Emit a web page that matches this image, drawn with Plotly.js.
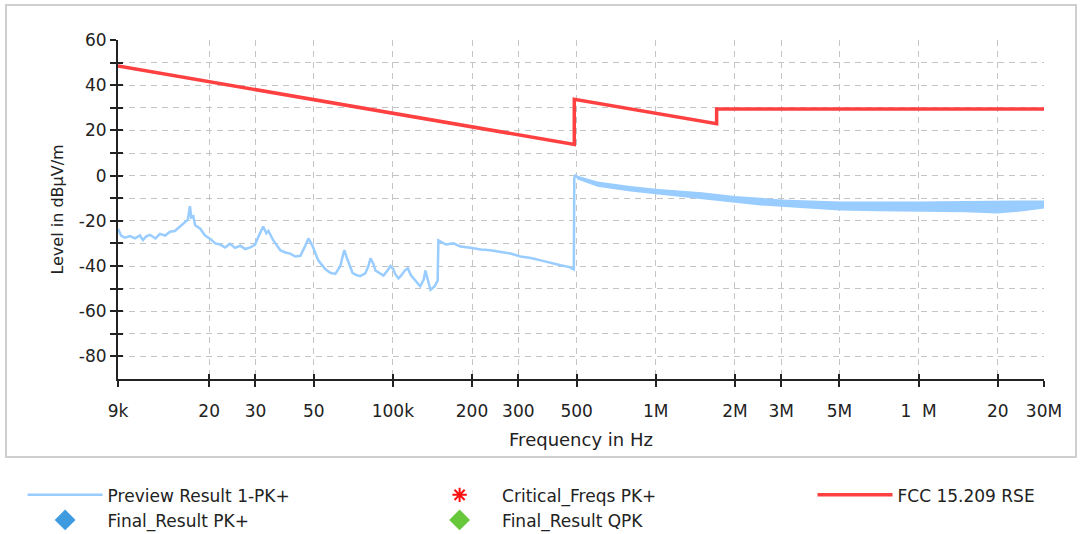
<!DOCTYPE html>
<html><head><meta charset="utf-8">
<script src="https://cdn.plot.ly/plotly-3.0.1.min.js"></script>
<style>
html,body{margin:0;padding:0;background:#fff;}
#frame{position:absolute;left:5px;top:4px;width:1068px;height:450px;border:2px solid #cfcfcf;}
#chart{position:absolute;left:0;top:0;width:1081px;height:534px;}
</style></head><body>
<div id="frame"></div>
<div id="chart"></div>
<script>
// Preview Result 1-PK+ (centre of the measured trace)
const previewFreq = [9000,9240,9570,10000,10450,10900,11200,11500,11900,12500,13000,13600,14200,14800,15500,16200,16600,16900,17100,17400,17700,18500,19300,20200,21100,22000,23000,24000,25100,26300,27400,28700,29900,30800,32100,33000,33600,35100,37300,39000,40700,42500,44500,46400,47700,49400,52000,55400,57800,60400,63100,64300,65400,66600,67700,70200,72600,75200,78600,80700,82200,84300,85800,88900,92100,95400,97900,100500,102000,105000,107000,111000,114000,117000,120000,123000,127000,131000,133000,135000,139000,144000,148000,149000,159000,170000,181000,200000,216000,235000,257000,280000,306000,335000,365000,400000,435000,470000,488000,490000,495000,501000,519000,540000,566000,590000,618000,680000,737000,800000,878000,960000,1047000,1150000,1248000,1360000,1487000,1620000,1771000,1940000,2110000,2300000,2520000,2750000,3000000,3300000,3570000,4250000,5080000,6000000,7210000,8600000,10200000,12200000,14600000,17400000,20700000,25000000,30000000];
const previewLevel = [-23.5,-26.5,-27.5,-26.8,-27.8,-26.5,-28.5,-27,-26.2,-27.8,-25.8,-26.5,-24.8,-24.5,-22.5,-20.5,-19.5,-13.5,-18.5,-18,-22,-23.5,-26.5,-28,-30,-30.5,-31.8,-30.2,-32,-31,-32.5,-31.8,-30.5,-27,-22.5,-25.5,-24.5,-28.7,-33,-34,-34.5,-35.8,-35.5,-31,-27.8,-31,-37.5,-41.5,-43,-43.5,-40,-36,-33,-36,-38.5,-43,-44,-44.5,-43.2,-40,-36.6,-39,-42,-43,-44.2,-42,-40,-41.5,-43.5,-45.5,-44.5,-42,-41,-44,-45.5,-47,-49,-46,-42,-45,-50.5,-49,-46.5,-28.7,-30.5,-30,-31.4,-32,-32.7,-33,-33.6,-34.5,-35.8,-36.5,-37.5,-38.8,-39.7,-40.5,-41.5,-1,0,-0.5,-1.3,-1.8,-2.6,-3.2,-4,-4.5,-4.9,-5.8,-6,-6.8,-7,-7.6,-8,-8.6,-9,-9.8,-10.4,-10.7,-11.3,-11.6,-12,-12.2,-12.4,-12.8,-13,-13.2,-13.4,-13.2,-13.4,-13.6,-13.8,-13.9,-14,-13.9,-14,-13.3,-12.5];
// noise envelope of the preview trace above 490 kHz
const bandFreq  = [501000,600000,800000,1000000,1500000,2000000,2500000,3000000,5000000,7000000,10000000,15000000,20000000,25000000,30000000];
const bandUpper = [0,-2.6,-4.6,-5.8,-7.4,-9,-9.8,-10.6,-11.5,-11.6,-11.5,-11.2,-11,-11,-11];
const bandLower = [-1.6,-4.9,-7,-8.2,-10.6,-12,-13.2,-13.8,-15.4,-15.8,-15.9,-16.2,-16.8,-15.8,-14.6];
// FCC 15.209 RSE limit
const limitFreq  = [9000,490000,490000,1705000,1705000,30000000];
const limitLevel = [48.5,13.8,33.8,23.0,29.5,29.5];
// axis ticks
const xTickVals = [9000,20000,30000,50000,100000,200000,300000,500000,1000000,2000000,3000000,5000000,10000000,20000000,30000000];
const xTickText = ['9k','20','30','50','100k','200','300','500','1M','2M','3M','5M','1\u00a0\u00a0M','20','30M'];
const yTickVals = [-80,-70,-60,-50,-40,-30,-20,-10,0,10,20,30,40,50,60];
const yTickText = ['-80','','-60','','-40','','-20','','0','','20','','40','','60'];

const FONT = 'DejaVu Sans, Liberation Sans, Arial, sans-serif';
const blue = '#99ccff';
const xr = [Math.log10(9000), Math.log10(30000000)];
const yr = [-90, 60];

const traces = [
  {x: bandFreq, y: bandLower, type:'scatter', mode:'lines', line:{width:0, color:blue}, showlegend:false, hoverinfo:'skip'},
  {x: bandFreq, y: bandUpper, type:'scatter', mode:'lines', line:{width:0, color:blue}, fill:'tonexty', fillcolor:blue, showlegend:false, hoverinfo:'skip'},
  {x: previewFreq, y: previewLevel, type:'scatter', mode:'lines', name:'Preview Result 1-PK+', line:{width:2.5, color:blue}, legend:'legend', legendrank:1},
  {x: [null], y: [null], type:'scatter', mode:'markers', name:'Final_Result PK+', marker:{symbol:'diamond', size:17, color:'#3f9be0'}, legend:'legend', legendrank:2, xaxis:'x2', yaxis:'y2'},
  {x: [null], y: [null], type:'scatter', mode:'markers', name:'Critical_Freqs PK+', marker:{symbol:'asterisk-open', size:12, color:'#ff1010', line:{width:2, color:'#ff1010'}}, legend:'legend2', legendrank:1, xaxis:'x2', yaxis:'y2'},
  {x: [null], y: [null], type:'scatter', mode:'markers', name:'Final_Result QPK', marker:{symbol:'diamond', size:17, color:'#66c83a'}, legend:'legend2', legendrank:2, xaxis:'x2', yaxis:'y2'},
  {x: limitFreq, y: limitLevel, type:'scatter', mode:'lines', name:'FCC 15.209 RSE', line:{width:3.5, color:'#ff4040'}, legend:'legend3', xaxis:'x2', yaxis:'y2'}
];

const legBase = {orientation:'v', traceorder:'normal', yanchor:'top', xanchor:'left', y:-0.29, bgcolor:'rgba(0,0,0,0)', font:{family:FONT, size:17, color:'#222'}, itemwidth:75, tracegroupgap:0};

const layout = {
  width:1081, height:534,
  margin:{l:118, r:37, t:40, b:155, autoexpand:false},
  paper_bgcolor:'rgba(0,0,0,0)', plot_bgcolor:'#fff',
  font:{family:FONT, size:16, color:'#222'},
  xaxis:{type:'log', range:xr, tickvals:xTickVals, ticktext:xTickText, ticks:'outside', ticklen:6, tickwidth:2, tickcolor:'#222',
         showline:true, linecolor:'#222', linewidth:2, showgrid:true, gridcolor:'#c4c4c4', gridwidth:1, griddash:'6px,5px',
         zeroline:false, ticklabelstandoff:10, tickfont:{size:17}, automargin:false,
         title:{text:'Frequency in Hz', font:{size:18}, standoff:13}},
  yaxis:{range:yr, tickvals:yTickVals, ticktext:yTickText, ticks:'outside', ticklen:6, tickwidth:2, tickcolor:'#222',
         showline:true, linecolor:'#222', linewidth:2, showgrid:true, gridcolor:'#c4c4c4', gridwidth:1, griddash:'6px,5px',
         zeroline:false, tickfont:{size:17}, automargin:false,
         title:{text:'Level in dBµV/m', font:{size:16}, standoff:11}},
  xaxis2:{type:'log', range:xr, overlaying:'x', anchor:'y2', tickvals:xTickVals, ticks:'inside', ticklen:5, tickwidth:2, tickcolor:'#222',
          showticklabels:false, showgrid:false, showline:false, zeroline:false},
  yaxis2:{range:yr, overlaying:'y', anchor:'x2', tickvals:yTickVals, ticks:'inside', ticklen:5, tickwidth:2, tickcolor:'#222',
          showticklabels:false, showgrid:false, showline:false, zeroline:false},
  legend: Object.assign({}, legBase, {x:-0.103}),
  legend2: Object.assign({}, legBase, {x:0.323}),
  legend3: Object.assign({}, legBase, {x:0.75}),
  showlegend:true
};

Plotly.newPlot('chart', traces, layout, {staticPlot:true, displayModeBar:false});
</script></body></html>
